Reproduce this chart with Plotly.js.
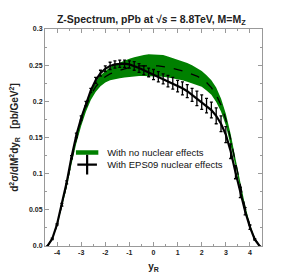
<!DOCTYPE html>
<html><head><meta charset="utf-8">
<script src="https://cdn.plot.ly/plotly-3.0.1.min.js"></script>
<style>html,body{margin:0;padding:0;background:#fff}#plot{width:291px;height:277px}</style>
</head><body><div id="plot"></div>
<script>
var yR = [-4.4,-4.2,-4.0,-3.8,-3.6,-3.4,-3.2,-3.0,-2.8,-2.6,-2.4,-2.2,-2.0,-1.8,-1.6,-1.4,-1.2,-1.0,-0.8,-0.6,-0.4,-0.2,0.0,0.2,0.4,0.6,0.8,1.0,1.2,1.4,1.6,1.8,2.0,2.2,2.4,2.6,2.8,3.0,3.2,3.4,3.6,3.8,4.0,4.2,4.4];
var noNuclearCentral = [0.000,0.010,0.029,0.055,0.085,0.118,0.148,0.173,0.193,0.209,0.220,0.228,0.234,0.238,0.241,0.243,0.245,0.247,0.248,0.249,0.249,0.250,0.250,0.249,0.248,0.247,0.245,0.244,0.242,0.240,0.238,0.235,0.231,0.226,0.219,0.209,0.195,0.175,0.148,0.116,0.083,0.053,0.028,0.010,0.000];
var noNuclearUpper = [0.000,0.011,0.031,0.058,0.089,0.123,0.154,0.179,0.199,0.215,0.227,0.236,0.242,0.247,0.251,0.254,0.257,0.259,0.261,0.263,0.264,0.265,0.265,0.265,0.264,0.262,0.260,0.258,0.256,0.253,0.250,0.246,0.242,0.236,0.229,0.219,0.204,0.183,0.155,0.121,0.087,0.056,0.030,0.011,0.000];
var noNuclearLower = [0.000,0.009,0.027,0.052,0.081,0.113,0.142,0.166,0.186,0.202,0.213,0.221,0.226,0.229,0.231,0.232,0.233,0.234,0.235,0.235,0.235,0.235,0.235,0.234,0.234,0.233,0.232,0.231,0.229,0.227,0.225,0.223,0.220,0.215,0.209,0.199,0.186,0.167,0.141,0.111,0.079,0.050,0.026,0.009,0.000];
var eps09 = [0.000,0.010,0.030,0.057,0.088,0.123,0.153,0.177,0.197,0.215,0.229,0.239,0.245,0.249,0.251,0.252,0.252,0.251,0.249,0.246,0.243,0.240,0.237,0.234,0.231,0.228,0.225,0.221,0.218,0.214,0.209,0.204,0.199,0.194,0.188,0.180,0.169,0.154,0.131,0.102,0.074,0.048,0.026,0.009,0.000];
var eps09Err = [0,0.001,0.001,0.002,0.002,0.002,0.003,0.003,0.003,0.003,0.004,0.004,0.004,0.005,0.005,0.005,0.005,0.005,0.006,0.006,0.006,0.006,0.007,0.007,0.007,0.008,0.008,0.008,0.009,0.009,0.009,0.010,0.010,0.010,0.011,0.011,0.011,0.011,0.010,0.009,0.007,0.005,0.003,0.001,0];
var yTickVals = [0,0.05,0.1,0.15,0.2,0.25,0.3];
var yTickText = ["0.0","0.05","0.1","0.15","0.2","0.25","0.3"];
var xTickVals = [-4,-3,-2,-1,0,1,2,3,4];
var xTickText = ["-4","-3","-2","-1","0","1","2","3","4"];
var seriesNames = ["With no nuclear effects", "With EPS09 nuclear effects"];

var green = "rgb(0,128,0)";
var traces = [
  {x: yR, y: noNuclearLower, mode: "lines", line: {width: 0, color: green}, showlegend: false, hoverinfo: "skip"},
  {x: yR, y: noNuclearUpper, mode: "lines", line: {width: 0, color: green}, fill: "tonexty", fillcolor: green, showlegend: false, hoverinfo: "skip"},
  {x: yR, y: noNuclearCentral, mode: "lines", line: {width: 1.3, color: "black", dash: "dash"}, showlegend: false},
  {x: yR, y: eps09, mode: "lines", line: {width: 2.2, color: "black"}, showlegend: false,
   error_y: {type: "data", array: eps09Err, visible: true, color: "black", thickness: 1.3, width: 1.5}},
  {x: [null], y: [null], mode: "markers", marker: {symbol: "line-ew-open", size: 16, color: green, line: {width: 4.5, color: green}}, name: seriesNames[0], legend: "legend"},
  {x: [null], y: [null], mode: "markers", marker: {symbol: "cross-thin-open", size: 14, color: "black", line: {width: 2.2, color: "black"}}, name: seriesNames[1], legend: "legend2"}
];
var axisCommon = {showline: true, linecolor: "#999", linewidth: 1, mirror: "allticks", ticks: "inside", ticklen: 4, tickcolor: "#999", tickwidth: 1, showgrid: false, zeroline: false,
  tickfont: {family: "Liberation Sans, Arial, sans-serif", size: 7, color: "#222", weight: "bold"}};
var legendFont = {family: "Liberation Sans, Arial, sans-serif", size: 9.5, color: "#111"};
var layout = {
  width: 291, height: 277,
  margin: {l: 45, r: 29, t: 29, b: 31},
  paper_bgcolor: "white", plot_bgcolor: "white",
  font: {family: "Liberation Sans, Arial, sans-serif", color: "#222"},
  title: {text: "<b>Z-Spectrum, pPb at √<i>s</i> = 8.8TeV, M=M<sub>Z</sub></b>", font: {size: 10.5, color: "#222"}, x: 0.49, xref: "paper", xanchor: "center", y: 0.931, yanchor: "middle"},
  xaxis: Object.assign({}, axisCommon, {range: [-4.5, 4.5], tickmode: "array", tickvals: xTickVals, ticktext: xTickText,
    minor: {ticks: "inside", ticklen: 2, tickcolor: "#999", dtick: 0.5, tick0: 0},
    title: {text: "<b>y<sub>R</sub></b>", font: {size: 10, color: "#222"}, standoff: 7}}),
  yaxis: Object.assign({}, axisCommon, {range: [0, 0.3], tickmode: "array", tickvals: yTickVals, ticktext: yTickText,
    minor: {ticks: "inside", ticklen: 2, tickcolor: "#999", dtick: 0.025, tick0: 0},
    title: {text: "<b>d<sup>2</sup>σ/dM<sup>2</sup>dy<sub>R</sub>   [pb/GeV<sup>2</sup>]</b>", font: {size: 10, color: "#222"}, standoff: 8}}),
  legend: {x: 0.102, y: 0.498, xanchor: "left", yanchor: "top", bgcolor: "rgba(0,0,0,0)", font: legendFont, itemwidth: 30},
  legend2: {x: 0.102, y: 0.442, xanchor: "left", yanchor: "top", bgcolor: "rgba(0,0,0,0)", font: legendFont, itemwidth: 30},
  showlegend: true
};
Plotly.newPlot("plot", traces, layout, {displayModeBar: false, staticPlot: true});
</script></body></html>
